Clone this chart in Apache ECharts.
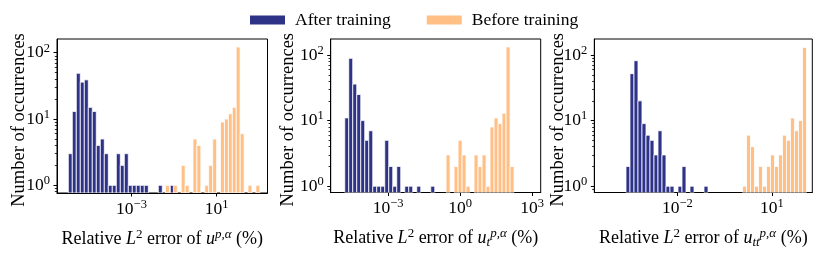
<!DOCTYPE html>
<html><head><meta charset="utf-8">
<script src="https://cdn.jsdelivr.net/npm/echarts@6/dist/echarts.min.js"></script>
<style>html,body{margin:0;padding:0;background:#fff}#c{width:830px;height:264px}</style>
</head><body><div id="c"></div>
<script>
// ---- data (x = log10 of bin left edge, relative L2 error in %; counts) ----
const p1AfterEdges = [-5.974,-5.786,-5.598,-5.409,-5.221,-5.033,-4.845,-4.656,-4.468,-4.280,-4.092,-3.904,-3.715,-3.527,-3.339,-3.151,-2.962,-2.774,-2.586,-2.398,-1.739,-1.175];
const p1AfterCounts = [3,13,49,36,39,15,13,4,5,3,1,1,3,2,3,1,1,1,1,1,1,1];
const p1BeforeEdges = [-1.400,-1.028,-0.661,-0.474,-0.106,0.078,0.449,0.633,0.821,1.188,1.376,1.560,1.744,1.927,2.115,2.482,2.854];
const p1BeforeCounts = [1,1,2,1,5,4,1,2,5,9,10,12,15,122,6,1,1];

const p2AfterEdges = [-4.804,-4.638,-4.471,-4.304,-4.138,-3.971,-3.804,-3.638,-3.471,-3.304,-3.138,-2.971,-2.804,-2.638,-2.304,-2.138,-1.804,-1.221];
const p2AfterCounts = [11,89,36,25,10,5,7,1,1,1,5,2,1,2,1,1,1,1];
const p2BeforeEdges = [-0.583,-0.250,-0.083,0.083,0.250,0.583,0.750,0.917,1.083,1.250,1.417,1.583,1.750,1.917,2.083];
const p2BeforeCounts = [3,2,5,3,1,3,2,3,1,8,11,9,13,133,2];

const p3AfterEdges = [-3.629,-3.502,-3.375,-3.248,-3.121,-2.994,-2.867,-2.740,-2.613,-2.486,-2.359,-2.232,-1.978,-1.851,-1.597,-1.152];
const p3AfterCounts = [2,52,82,20,9,6,5,3,7,3,1,1,1,2,1,1];
const p3BeforeEdges = [0.070,0.197,0.324,0.451,0.578,0.705,0.832,0.959,1.086,1.213,1.340,1.467,1.594,1.721,1.848,1.975];
const p3BeforeCounts = [1,6,4,1,2,1,2,3,2,3,6,5,11,7,10,130];

// bin widths (decades)
const p1AfterBin = 0.188, p1BeforeBin = 0.185, p2Bin = 0.1667, p3Bin = 0.127;

// tick labels (exponents)
const p1XTicks = [-3, 1];
const p2XTicks = [-3, 0, 3];
const p3XTicks = [-2, 1];
const yTicks = [0, 1, 2];

const seriesNames = ['After training', 'Before training'];
const colors = ['#2f3388', '#ffbf85'];

// ---- styling / layout ----
const font = '"Liberation Serif","Times New Roman",serif';
const FS = 17.5;
const NFS = 18;
const rich = {
  n: {fontFamily: font, fontSize: FS, lineHeight: 22, color: '#000'},
  i: {fontFamily: font, fontSize: FS, lineHeight: 22, fontStyle: 'italic', color: '#000'},
  s: {fontFamily: font, fontSize: 12.5, lineHeight: 11, verticalAlign: 'top', color: '#000'},
  si: {fontFamily: font, fontSize: 12.5, lineHeight: 11, verticalAlign: 'top', fontStyle: 'italic', color: '#000'},
  b: {fontFamily: font, fontSize: 12.5, lineHeight: 9, verticalAlign: 'bottom', fontStyle: 'italic', color: '#000'}
};
const nrich = {
  n: Object.assign({}, rich.n, {fontSize: NFS}),
  i: Object.assign({}, rich.i, {fontSize: NFS}),
  s: Object.assign({}, rich.s, {fontSize: 13}),
  si: Object.assign({}, rich.si, {fontSize: 13}),
  b: Object.assign({}, rich.b, {fontSize: 13})
};
const tickFmt = v => '{n|10}{s|' + (v < 0 ? '\u2212' + (-v) : v) + '}';

const grids = [
  {left: 57, top: 39, width: 210.5, height: 154},
  {left: 330.7, top: 39, width: 210, height: 153.5},
  {left: 594.3, top: 39, width: 218, height: 153.5}
];
const xRanges = [[-6.506, 3.40], [-5.39, 3.36], [-4.635, 2.286]];
const yRanges = [[-0.116, 2.207], [-0.096, 2.244], [-0.096, 2.244]];
const yNameGaps = [28, 33, 27];
const xTicks = [p1XTicks, p2XTicks, p3XTicks];
const xNames = [
  '{n|Relative }{i|L}{s|2}{n| error of }{i|u}{si|p,\u03b1}{n| (%)}',
  '{n|Relative }{i|L}{s|2}{n| error of }{i|u}{b|t}{si|p,\u03b1}{n| (%)}',
  '{n|Relative }{i|L}{s|2}{n| error of }{i|u}{b|tt}{si|p,\u03b1}{n| (%)}'
];

function minorTicks(r) {
  const out = [];
  for (let d = -1; d <= 2; d++) for (let m = 2; m <= 9; m++) {
    const v = d + Math.log10(m);
    if (v > r[0] && v < r[1]) out.push(v);
  }
  return out;
}

const xAxis = [], yAxis = [], series = [];
grids.forEach((g, k) => {
  xAxis.push({
    type: 'value', gridIndex: k, min: xRanges[k][0], max: xRanges[k][1],
    axisLine: {onZero: false, lineStyle: {color: '#000', width: 1}},
    axisTick: {length: 3.5, lineStyle: {color: '#000'}, customValues: xTicks[k]},
    axisLabel: {customValues: xTicks[k], formatter: tickFmt, rich: rich, margin: 5},
    splitLine: {show: false},
    name: xNames[k], nameLocation: 'middle', nameGap: 35,
    nameTextStyle: {rich: nrich}
  });
  yAxis.push({
    type: 'value', gridIndex: k, position: 'left', min: yRanges[k][0], max: yRanges[k][1],
    axisLine: {onZero: false, lineStyle: {color: '#000', width: 1}},
    axisTick: {length: 3.5, lineStyle: {color: '#000'}, customValues: yTicks},
    axisLabel: {customValues: yTicks, formatter: tickFmt, rich: rich, margin: 7},
    splitLine: {show: false},
    name: 'Number of occurrences', nameLocation: 'middle', nameGap: yNameGaps[k], nameMoveOverlap: false,
    nameTextStyle: {fontFamily: font, fontSize: NFS + 0.5, color: '#000', padding: [0, 8, 0, 0]}
  });
  yAxis.push({
    type: 'value', gridIndex: k, position: 'left', offset: 0, min: yRanges[k][0], max: yRanges[k][1],
    axisLine: {show: false, onZero: false},
    axisTick: {show: true, length: 2.2, lineStyle: {color: '#000', width: 0.8}, customValues: minorTicks(yRanges[k])},
    axisLabel: {show: false},
    splitLine: {show: false}
  });
});

function render(bin) {
  return function (params, api) {
    const cs = params.coordSys;
    const x0 = api.value(0), c = api.value(1);
    const pTop = api.coord([x0, Math.log10(c)]);
    const pRight = api.coord([x0 + bin, 0]);
    const bottom = cs.y + cs.height;
    return {
      type: 'rect',
      shape: {x: pTop[0], y: pTop[1], width: pRight[0] - pTop[0], height: bottom - pTop[1]},
      style: {fill: api.visual('color'), stroke: '#fff', lineWidth: 0.8}
    };
  };
}
function addSeries(k, name, color, edges, counts, bin) {
  series.push({
    type: 'custom', name: name, xAxisIndex: k, yAxisIndex: 2 * k,
    itemStyle: {color: color}, clip: true,
    encode: {x: 0, y: 1},
    renderItem: render(bin),
    data: edges.map((e, i) => [e, counts[i]])
  });
}
addSeries(0, seriesNames[0], colors[0], p1AfterEdges, p1AfterCounts, p1AfterBin);
addSeries(0, seriesNames[1], colors[1], p1BeforeEdges, p1BeforeCounts, p1BeforeBin);
addSeries(1, seriesNames[0], colors[0], p2AfterEdges, p2AfterCounts, p2Bin);
addSeries(1, seriesNames[1], colors[1], p2BeforeEdges, p2BeforeCounts, p2Bin);
addSeries(2, seriesNames[0], colors[0], p3AfterEdges, p3AfterCounts, p3Bin);
addSeries(2, seriesNames[1], colors[1], p3BeforeEdges, p3BeforeCounts, p3Bin);

const chart = echarts.init(document.getElementById('c'), null, {renderer: 'canvas'});
chart.setOption({
  animation: false,
  backgroundColor: '#fff',
  legend: {
    data: seriesNames, left: 245, top: 6, icon: 'rect',
    itemWidth: 35, itemHeight: 9, itemGap: 36,
    textStyle: {fontFamily: font, fontSize: FS, color: '#000', padding: [0, 0, 0, 5]}
  },
  grid: grids.map(g => Object.assign({show: true, borderColor: '#000', borderWidth: 1, backgroundColor: 'transparent'}, g)),
  xAxis: xAxis,
  yAxis: yAxis,
  series: series
});
</script>
</body></html>
